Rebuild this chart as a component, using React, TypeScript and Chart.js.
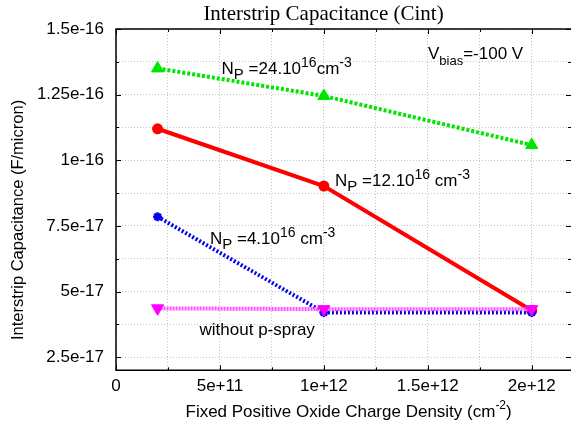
import React, { useEffect, useRef } from 'react';
import { Chart, registerables } from 'chart.js';

Chart.register(...registerables);

// ---- data ----
const xValues = [2e11, 1e12, 2e12];
const np24Values = [1.35e-16, 1.245e-16, 1.058e-16];
const np12Values = [1.12e-16, 9.02e-17, 4.28e-17];
const np4Values = [7.85e-17, 4.2e-17, 4.2e-17];
const noSprayValues = [4.36e-17, 4.33e-17, 4.33e-17];

const xTickValues = [0, 5e11, 1e12, 1.5e12, 2e12];
const xTickLabels = ['0', '5e+11', '1e+12', '1.5e+12', '2e+12'];
const yTickValues = [2.5e-17, 5e-17, 7.5e-17, 1e-16, 1.25e-16, 1.5e-16];
const yTickLabels = ['2.5e-17', '5e-17', '7.5e-17', '1e-16', '1.25e-16', '1.5e-16'];

const X_MIN = 0;
const X_MAX = 2.189e12;
const Y_MIN = 2e-17;
const Y_MAX = 1.5e-16;

const SANS = "'Liberation Sans', Arial, Helvetica, sans-serif";
const SERIF = "'Liberation Serif', 'Times New Roman', serif";

function withMinors(majors: number[], min: number, max: number): number[] {
  const out: number[] = [];
  for (let i = 0; i < majors.length; i++) {
    out.push(majors[i]);
    if (i < majors.length - 1) out.push((majors[i] + majors[i + 1]) / 2);
  }
  const step = majors[1] - majors[0];
  const after = majors[majors.length - 1] + step / 2;
  if (after < max) out.push(after);
  const before = majors[0] - step / 2;
  if (before > min) out.unshift(before);
  return out;
}

const xAllTicks = withMinors(xTickValues, X_MIN, X_MAX);
const yAllTicks = withMinors(yTickValues, Y_MIN, Y_MAX);

function labelFor(v: number, majors: number[], labels: string[]): string {
  const tol = Math.abs(majors[1] - majors[0]) * 1e-6;
  const i = majors.findIndex((m) => Math.abs(m - v) < tol);
  return i >= 0 ? labels[i] : '';
}

type Part = [string, number, number];

function drawRich(ctx: CanvasRenderingContext2D, x: number, y: number, parts: Part[]) {
  let cx = x;
  for (const [t, size, dy] of parts) {
    ctx.font = `${size}px ${SANS}`;
    ctx.fillText(t, cx, y + dy);
    cx += ctx.measureText(t).width;
  }
}

function richWidth(ctx: CanvasRenderingContext2D, parts: Part[]) {
  let w = 0;
  for (const [t, size] of parts) {
    ctx.font = `${size}px ${SANS}`;
    w += ctx.measureText(t).width;
  }
  return w;
}

const annotations: { x: number; y: number; parts: Part[] }[] = [
  { x: 5.08e11, y: 1.329e-16, parts: [['N', 17, 0], ['P', 15, 5], [' =24.10', 17, 0], ['16', 14, -7], ['cm', 17, 0], ['-3', 14, -7]] },
  { x: 1.501e12, y: 1.386e-16, parts: [['V', 17, 0], ['bias', 13, 6], ['=-100 V', 17, 0]] },
  { x: 1.054e12, y: 9.03e-17, parts: [['N', 17, 0], ['P', 15, 5], [' =12.10', 17, 0], ['16', 14, -7], [' cm', 17, 0], ['-3', 14, -7]] },
  { x: 4.52e11, y: 6.81e-17, parts: [['N', 17, 0], ['P', 15, 5], [' =4.10', 17, 0], ['16', 14, -7], [' cm', 17, 0], ['-3', 14, -7]] },
  { x: 4.02e11, y: 3.35e-17, parts: [['without p-spray', 17, 0]] },
];

const framePlugin = {
  id: 'frameAndText',
  beforeDatasetsDraw(chart: any) {
    const { ctx, chartArea: a, scales } = chart;
    const xs = scales.x;
    const ys = scales.y;
    ctx.save();
    ctx.strokeStyle = '#000';
    ctx.lineWidth = 1;
    const isMajor = (v: number, majors: number[]) => labelFor(v, majors, majors.map(() => 'm')) !== '';
    for (const v of xAllTicks) {
      const px = Math.round(xs.getPixelForValue(v)) + 0.5;
      const len = isMajor(v, xTickValues) ? 5 : 3;
      ctx.beginPath();
      ctx.moveTo(px, a.bottom);
      ctx.lineTo(px, a.bottom - len);
      ctx.moveTo(px, a.top);
      ctx.lineTo(px, a.top + len);
      ctx.stroke();
    }
    for (const v of yAllTicks) {
      const py = Math.round(ys.getPixelForValue(v)) + 0.5;
      const len = isMajor(v, yTickValues) ? 5 : 3;
      ctx.beginPath();
      ctx.moveTo(a.left, py);
      ctx.lineTo(a.left + len, py);
      ctx.moveTo(a.right, py);
      ctx.lineTo(a.right - len, py);
      ctx.stroke();
    }
    ctx.lineWidth = 1.5;
    ctx.beginPath();
    ctx.moveTo(a.right + 2, a.top);
    ctx.lineTo(a.left, a.top);
    ctx.lineTo(a.left, a.bottom);
    ctx.lineTo(a.right + 2, a.bottom);
    ctx.stroke();
    ctx.restore();
  },
  afterDatasetsDraw(chart: any) {
    const { ctx, scales } = chart;
    const xs = scales.x;
    const ys = scales.y;
    ctx.save();
    ctx.fillStyle = '#000';
    ctx.textBaseline = 'alphabetic';
    ctx.textAlign = 'left';
    for (const an of annotations) {
      drawRich(ctx, xs.getPixelForValue(an.x), ys.getPixelForValue(an.y), an.parts);
    }
    ctx.font = `21px ${SERIF}`;
    ctx.textAlign = 'center';
    ctx.fillText('Interstrip Capacitance (Cint)', 323.5, 20);
    ctx.textAlign = 'left';
    const xParts: Part[] = [['Fixed Positive Oxide Charge Density (cm', 17, 0], ['-2', 12, -8], [')', 17, 0]];
    const w = richWidth(ctx, xParts);
    drawRich(ctx, 348.6 - w / 2, 416.7, xParts);
    ctx.save();
    ctx.translate(22.5, 220);
    ctx.rotate(-Math.PI / 2);
    ctx.font = `16.5px ${SANS}`;
    ctx.textAlign = 'center';
    ctx.fillText('Interstrip Capacitance (F/micron)', 0, 0);
    ctx.restore();
    ctx.restore();
  },
};

function pts(ys: number[]) {
  return xValues.map((x, i) => ({ x, y: ys[i] }));
}

export default function App() {
  const ref = useRef<HTMLCanvasElement | null>(null);
  useEffect(() => {
    if (!ref.current) return;
    const gridCommon = {
      color: '#c4c4c4',
      lineWidth: 1,
      drawTicks: false,
    };
    const chart = new Chart(ref.current, {
      type: 'line',
      data: {
        datasets: [
          {
            label: 'without p-spray',
            data: pts(noSprayValues),
            borderColor: 'rgb(255,80,255)',
            backgroundColor: '#ff00ff',
            borderWidth: 4,
            borderDash: [2, 1],
            pointStyle: 'triangle',
            rotation: 180,
            pointRadius: 7,
            pointBorderWidth: 1,
            pointBorderColor: '#ff00ff',
            tension: 0,
          },
          {
            label: 'Np 4e16',
            data: pts(np4Values),
            borderColor: '#0000f0',
            backgroundColor: '#0000f0',
            borderWidth: 4,
            borderDash: [2, 2],
            pointStyle: 'star',
            pointRadius: 4.5,
            pointBorderWidth: 2.5,
            tension: 0,
          },
          {
            label: 'Np 12e16',
            data: pts(np12Values),
            borderColor: '#ff0000',
            backgroundColor: '#ff0000',
            borderWidth: 4,
            pointStyle: 'circle',
            pointRadius: 5.5,
            pointBorderWidth: 0,
            tension: 0,
          },
          {
            label: 'Np 24e16',
            data: pts(np24Values),
            borderColor: 'rgb(0,230,0)',
            backgroundColor: 'rgb(0,230,0)',
            borderWidth: 4,
            borderDash: [3, 2],
            pointStyle: 'triangle',
            pointRadius: 7,
            pointBorderWidth: 1,
            tension: 0,
          },
        ],
      },
      options: {
        animation: false,
        responsive: false,
        events: [],
        layout: { autoPadding: false, padding: { top: 29, left: 0, right: 0, bottom: 0 } },
        plugins: {
          legend: { display: false },
          tooltip: { enabled: false },
          title: { display: false },
        },
        scales: {
          x: {
            type: 'linear',
            min: X_MIN,
            max: X_MAX,
            afterBuildTicks: (scale: any) => {
              scale.ticks = xAllTicks.map((v) => ({ value: v }));
            },
            afterFit: (scale: any) => {
              scale.height = 57.7;
              scale.paddingLeft = 0;
              scale.paddingRight = 0;
            },
            ticks: {
              autoSkip: false,
              maxRotation: 0,
              padding: 6,
              color: '#000',
              font: { family: SANS, size: 17 },
              callback: (v: any) => labelFor(Number(v), xTickValues, xTickLabels),
            },
            grid: gridCommon,
            border: { display: false, dash: [1, 2] },
          },
          y: {
            type: 'linear',
            min: Y_MIN,
            max: Y_MAX,
            afterBuildTicks: (scale: any) => {
              scale.ticks = yAllTicks.map((v) => ({ value: v }));
            },
            afterFit: (scale: any) => {
              scale.width = 116;
            },
            ticks: {
              autoSkip: false,
              padding: 12,
              color: '#000',
              font: { family: SANS, size: 17 },
              callback: (v: any) => labelFor(Number(v), yTickValues, yTickLabels),
            },
            grid: gridCommon,
            border: { display: false, dash: [1, 2] },
          },
        },
      },
      plugins: [framePlugin],
    } as any);
    return () => chart.destroy();
  }, []);

  return (
    <div style={{ position: 'fixed', left: 0, top: 0, width: 571, height: 428, background: '#fff', overflow: 'hidden' }}>
      <canvas ref={ref} width={571} height={428} style={{ display: 'block' }} />
    </div>
  );
}
